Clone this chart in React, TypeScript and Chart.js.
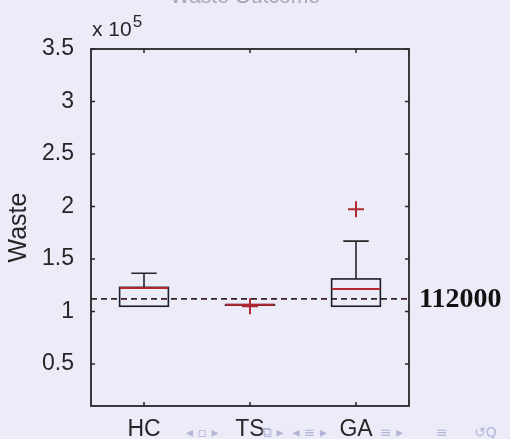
import React, { useEffect, useRef } from 'react';
import { Chart, registerables } from 'chart.js';

Chart.register(...registerables);

const categories = ['HC', 'TS', 'GA'];
const q1 = [1.05, 1.06, 1.05];
const medians = [1.225, 1.065, 1.215];
const q3 = [1.23, 1.065, 1.31];
const whiskerLow = [1.05, 1.06, 1.05];
const whiskerHigh = [1.365, 1.065, 1.67];
const outlierValues = [[], [1.05], [1.975]];
const refValue = 1.12;
const refLabel = '112000';
const yTicks = [0.5, 1, 1.5, 2, 2.5, 3, 3.5];
const xTicks = [1, 2, 3];
const titleText = 'Waste Outcome';
const yTitle = 'Waste';
const exponentText = '5';

const FONT = '"Liberation Sans", Arial, sans-serif';
const BG = '#ececf9';
const INK = '#262626';
const RED = '#b02830';

const outlierPoints = outlierValues.flatMap((vals, i) => vals.map((v) => ({ x: i + 1, y: v })));

const decorPlugin = {
  id: 'decor',
  beforeDraw(chart: any) {
    const { ctx, width, height } = chart;
    ctx.save();
    ctx.fillStyle = BG;
    ctx.fillRect(0, 0, width, height);
    ctx.restore();
  },
  beforeDatasetsDraw(chart: any) {
    const { ctx } = chart;
    const xs = chart.scales.x;
    const ys = chart.scales.y;
    const half = 0.23;
    const cap = 0.12;
    ctx.save();
    ctx.lineWidth = 1.6;
    for (let i = 0; i < categories.length; i++) {
      const c = i + 1;
      const xl = xs.getPixelForValue(c - half);
      const xr = xs.getPixelForValue(c + half);
      const xc = xs.getPixelForValue(c);
      const yq1 = ys.getPixelForValue(q1[i]);
      const yq3 = ys.getPixelForValue(q3[i]);
      const yhi = ys.getPixelForValue(whiskerHigh[i]);
      const ylo = ys.getPixelForValue(whiskerLow[i]);
      ctx.strokeStyle = '#1c1c30';
      ctx.strokeRect(xl, yq3, xr - xl, yq1 - yq3);
      ctx.strokeStyle = INK;
      if (whiskerHigh[i] > q3[i]) {
        ctx.beginPath();
        ctx.moveTo(xc, yq3);
        ctx.lineTo(xc, yhi);
        ctx.moveTo(xs.getPixelForValue(c - cap), yhi);
        ctx.lineTo(xs.getPixelForValue(c + cap), yhi);
        ctx.stroke();
      }
      if (whiskerLow[i] < q1[i]) {
        ctx.beginPath();
        ctx.moveTo(xc, yq1);
        ctx.lineTo(xc, ylo);
        ctx.moveTo(xs.getPixelForValue(c - cap), ylo);
        ctx.lineTo(xs.getPixelForValue(c + cap), ylo);
        ctx.stroke();
      }
      ctx.strokeStyle = RED;
      ctx.lineWidth = 2;
      ctx.beginPath();
      const ym = ys.getPixelForValue(medians[i]);
      ctx.moveTo(xl, ym);
      ctx.lineTo(xr, ym);
      ctx.stroke();
      ctx.lineWidth = 1.6;
    }
    ctx.restore();
  },
  afterDraw(chart: any) {
    const { ctx, chartArea } = chart;
    const { left, right, top, bottom } = chartArea;
    const xs = chart.scales.x;
    const ys = chart.scales.y;
    ctx.save();
    ctx.strokeStyle = INK;
    ctx.lineWidth = 1.8;
    ctx.strokeRect(left, top, right - left, bottom - top);
    ctx.lineWidth = 1.5;
    ctx.beginPath();
    for (const t of yTicks) {
      const y = ys.getPixelForValue(t);
      ctx.moveTo(left, y);
      ctx.lineTo(left + 4, y);
      ctx.moveTo(right, y);
      ctx.lineTo(right - 4, y);
    }
    for (const t of xTicks) {
      const x = xs.getPixelForValue(t);
      ctx.moveTo(x, bottom);
      ctx.lineTo(x, bottom - 4);
      ctx.moveTo(x, top);
      ctx.lineTo(x, top + 4);
    }
    ctx.stroke();
    ctx.fillStyle = INK;
    ctx.textBaseline = 'alphabetic';
    ctx.textAlign = 'left';
    ctx.font = `21px ${FONT}`;
    ctx.fillText('x 10', left + 1, top - 13);
    const w = ctx.measureText('x 10').width;
    ctx.font = `17px ${FONT}`;
    ctx.fillText(exponentText, left + 2 + w, top - 22);
    ctx.font = `bold 28px "Liberation Serif", "Times New Roman", serif`;
    ctx.fillStyle = '#111';
    ctx.textBaseline = 'middle';
    ctx.fillText(refLabel, right + 10, ys.getPixelForValue(refValue) + 1);
    ctx.font = `21px ${FONT}`;
    ctx.fillStyle = '#a6a6b2';
    ctx.textAlign = 'center';
    ctx.textBaseline = 'alphabetic';
    ctx.fillText(titleText, (left + right) / 2 - 5, 3);
    ctx.fillStyle = '#b4b4d6';
    ctx.font = `14px "DejaVu Sans", sans-serif`;
    ctx.textAlign = 'left';
    ctx.fillText('◂ ▫ ▸', 186, 437);
    ctx.fillText('⧉ ▸  ◂ ≡ ▸', 262, 437);
    ctx.fillText('≡ ▸', 380, 437);
    ctx.fillText('≡', 436, 437);
    ctx.fillText('↺Q', 474, 437);
    ctx.restore();
  },
};

export default function App() {
  const ref = useRef<HTMLCanvasElement | null>(null);
  useEffect(() => {
    document.body.style.margin = '0';
    const canvas = ref.current;
    if (!canvas) return;
    const chart = new Chart(canvas, {
      type: 'scatter',
      data: {
        datasets: [
          {
            label: 'outliers',
            data: outlierPoints,
            pointStyle: 'cross',
            pointRadius: 8,
            pointBorderWidth: 2,
            borderColor: RED,
            backgroundColor: RED,
            showLine: false,
          } as any,
          {
            label: 'reference',
            data: [
              { x: 0.5, y: refValue },
              { x: 3.5, y: refValue },
            ],
            showLine: true,
            borderColor: '#3a2020',
            borderWidth: 1.6,
            borderDash: [6, 4],
            pointRadius: 0,
          } as any,
        ],
      },
      options: {
        animation: false,
        responsive: false,
        devicePixelRatio: 1,
        layout: { padding: { left: 0, right: 101, top: 49, bottom: 0 } },
        plugins: { legend: { display: false }, tooltip: { enabled: false }, title: { display: false } },
        scales: {
          x: {
            type: 'linear',
            min: 0.5,
            max: 3.5,
            grid: { display: false },
            border: { display: false },
            afterBuildTicks: (s: any) => {
              s.ticks = xTicks.map((v) => ({ value: v }));
            },
            afterFit: (s: any) => {
              s.height = 33;
            },
            ticks: {
              color: INK,
              font: { family: FONT, size: 23 },
              padding: 2,
              maxRotation: 0,
              callback: (v: any) => categories[Math.round(Number(v)) - 1] ?? '',
            },
          },
          y: {
            type: 'linear',
            min: 0.1,
            max: 3.5,
            grid: { display: false },
            border: { display: false },
            afterBuildTicks: (s: any) => {
              s.ticks = yTicks.map((v) => ({ value: v }));
            },
            afterFit: (s: any) => {
              s.width = 91;
            },
            title: {
              display: true,
              text: yTitle,
              color: INK,
              font: { family: FONT, size: 25 },
              padding: { top: 4, bottom: 4 },
            },
            ticks: {
              color: INK,
              font: { family: FONT, size: 23 },
              padding: 9,
              callback: (v: any) => String(v),
            },
          },
        },
      },
      plugins: [decorPlugin],
    } as any);
    return () => chart.destroy();
  }, []);
  return <canvas ref={ref} width={510} height={439} style={{ display: 'block', width: 510, height: 439 }} />;
}
